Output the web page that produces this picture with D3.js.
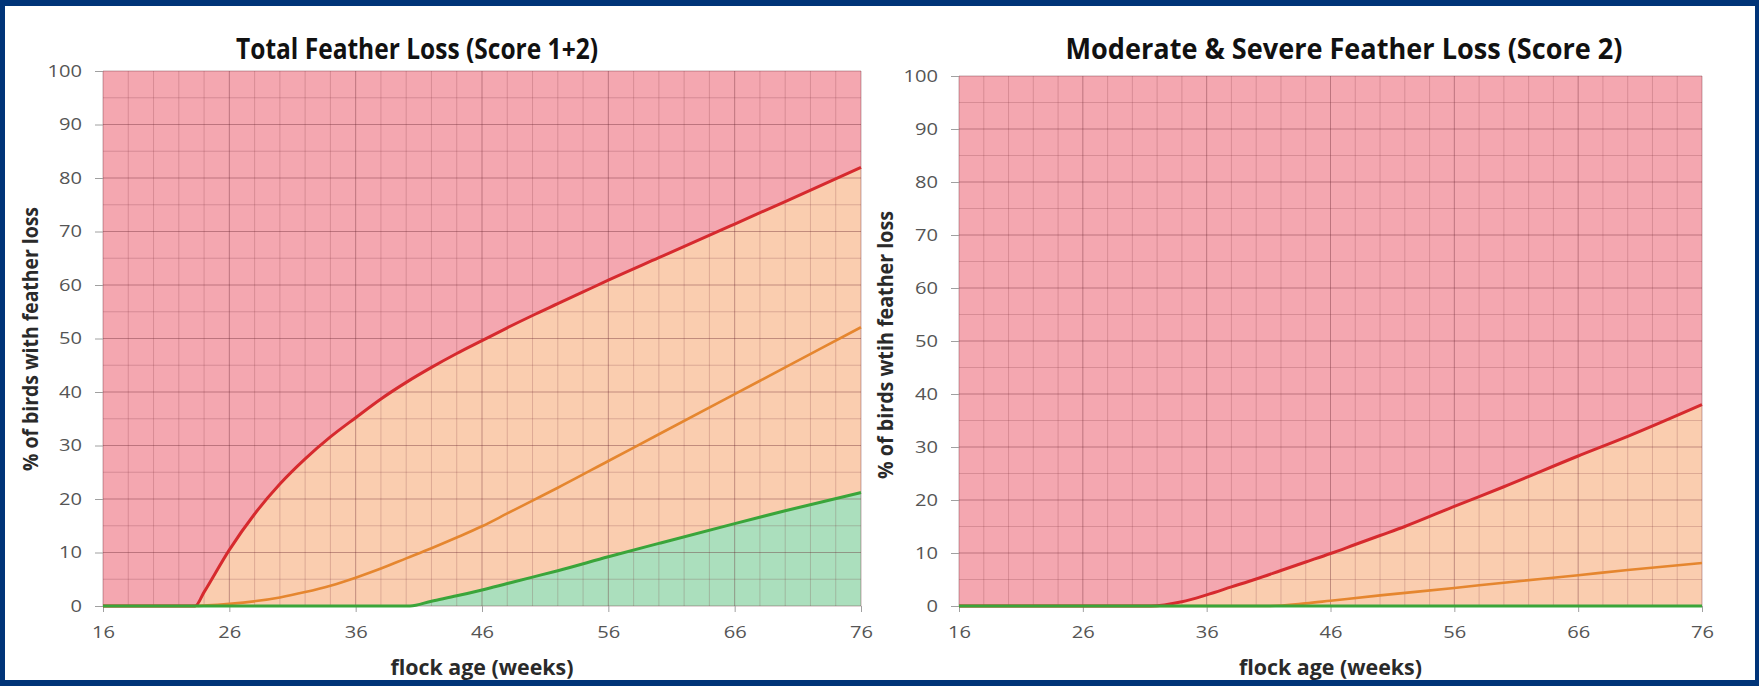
<!DOCTYPE html>
<html>
<head>
<meta charset="utf-8">
<script src="https://cdn.jsdelivr.net/npm/d3@7"></script>
<style>
  html, body { margin: 0; padding: 0; background: #003478; }
  svg { display: block; }
  text { font-family: "Open Sans", "Noto Sans", sans-serif; }
</style>
</head>
<body>
<svg id="chart" width="1759" height="686"></svg>
<script>
// ---------------- DATA ----------------
const xTickValues = [16, 26, 36, 46, 56, 66, 76];
const yTickValues = [0, 10, 20, 30, 40, 50, 60, 70, 80, 90, 100];

const panelTitles = ["Total Feather Loss (Score 1+2)", "Moderate & Severe Feather Loss (Score 2)"];
const yAxisTitles = ["% of birds with feather loss", "% of birds wtih feather loss"];
const xAxisTitle = "flock age (weeks)";

// Total feather loss (score 1+2): [week, % of birds]
const totalRed = [[16,0],[23.3,0],[24,2.6],[26,10.5],[28,17.2],[30,22.8],[32,27.5],[34,31.6],[36,35.2],[38,38.7],[40,41.8],[42,44.6],[44,47.2],[46,49.6],[48,52.0],[50,54.3],[52,56.5],[54,58.7],[56,60.9],[60,65.1],[66,71.4],[70,75.6],[76,82.0]];
const totalOrange = [[16,0],[23,0],[26,0.4],[30,1.6],[32,2.6],[34,3.8],[36,5.3],[38,7.0],[40,8.9],[42,10.8],[44,12.8],[46,14.9],[48,17.3],[50,19.7],[52,22.1],[56,27.1],[60,32.1],[66,39.6],[70,44.6],[76,52.1]];
const totalGreen = [[16,0],[40.3,0],[42,0.9],[44,1.9],[46,3.0],[48,4.2],[50,5.4],[52,6.6],[56,9.2],[60,11.7],[66,15.4],[70,17.8],[76,21.2]];

// Moderate & severe feather loss (score 2)
const severeRed = [[16,0],[31.5,0],[34,0.8],[36,2.1],[38,3.6],[40,5.1],[42,6.7],[44,8.3],[46,9.9],[48,11.6],[50,13.3],[52,15.0],[56,18.8],[60,22.5],[66,28.3],[70,32.0],[76,38.0]];
const severeOrange = [[16,0],[41,0],[44,0.5],[46,1.0],[50,2.0],[56,3.4],[60,4.4],[66,5.8],[70,6.8],[76,8.1]];
const severeGreen = [[16,0],[76,0]];

// ---------------- STYLE ----------------
const COL = {
  border: "#003478",
  pink: "#f4a7b0",
  peach: "#facdaf",
  greenFill: "#abdfbd",
  red: "#d62a2e",
  orange: "#e5862f",
  green: "#3aa53a",
  gridMinor: "rgba(120,45,55,0.22)",
  gridMajor: "rgba(100,35,45,0.38)",
  tickText: "#555555",
  label: "#2a2a2a"
};

const svg = d3.select("#chart");
const W = 1759, H = 686;

svg.append("rect").attr("x",0).attr("y",0).attr("width",W).attr("height",H).attr("fill",COL.border);
svg.append("rect").attr("x",5).attr("y",6).attr("width",1750).attr("height",674).attr("fill","#ffffff");

const panels = [
  { left:103, right:861, top:71, bottom:606, red:totalRed, orange:totalOrange, green:totalGreen,
    title:panelTitles[0], titleX:417, titleLen:362, yTitle:yAxisTitles[0], yTitleX:31, yTitleY:339, yTitleLen:264 },
  { left:959, right:1702, top:76, bottom:606, red:severeRed, orange:severeOrange, green:severeGreen,
    title:panelTitles[1], titleX:1344, titleLen:557, yTitle:yAxisTitles[1], yTitleX:886, yTitleY:345, yTitleLen:268 }
];

panels.forEach(p => {
  const g = svg.append("g");
  const x = d3.scaleLinear().domain([16, 76]).range([p.left, p.right]);
  const y = d3.scaleLinear().domain([0, 100]).range([p.bottom, p.top]);

  // background zone (above red)
  g.append("rect").attr("x", x(16)).attr("y", y(100))
    .attr("width", x(76) - x(16)).attr("height", y(0) - y(100)).attr("fill", COL.pink);

  const area = d3.area().x(d => x(d[0])).y0(y(0)).y1(d => y(d[1])).curve(d3.curveMonotoneX);
  g.append("path").datum(p.red).attr("d", area).attr("fill", COL.peach);
  g.append("path").datum(p.green).attr("d", area).attr("fill", COL.greenFill);

  // grid
  const grid = g.append("g");
  d3.range(16, 77, 2).forEach(w => {
    grid.append("line").attr("x1", x(w)).attr("x2", x(w)).attr("y1", y(0)).attr("y2", y(100))
      .attr("stroke", (w - 16) % 10 === 0 ? COL.gridMajor : COL.gridMinor).attr("stroke-width", 1);
  });
  d3.range(0, 101, 5).forEach(v => {
    grid.append("line").attr("x1", x(16)).attr("x2", x(76)).attr("y1", y(v)).attr("y2", y(v))
      .attr("stroke", v % 10 === 0 ? COL.gridMajor : COL.gridMinor).attr("stroke-width", 1);
  });

  // axes
  const yAxis = g.append("g").attr("transform", `translate(${p.left},0)`)
    .call(d3.axisLeft(y).tickValues(yTickValues).tickSize(8).tickPadding(13));
  const xAxis = g.append("g").attr("transform", `translate(0,${p.bottom})`)
    .call(d3.axisBottom(x).tickValues(xTickValues).tickSize(6).tickPadding(14));
  [yAxis, xAxis].forEach(a => {
    a.select(".domain").remove();
    a.selectAll(".tick line").attr("stroke", "#a0a0a0");
    a.selectAll(".tick text").attr("fill", COL.tickText).style("font-size", "17px")
      .style("font-family", "'Open Sans', sans-serif")
      .attr("textLength", d => String(d).length * 11.5)
      .attr("lengthAdjust", "spacingAndGlyphs");
  });

  // lines
  const line = d3.line().x(d => x(d[0])).y(d => y(d[1])).curve(d3.curveMonotoneX);
  g.append("path").datum(p.orange).attr("d", line).attr("fill", "none").attr("stroke", COL.orange).attr("stroke-width", 2.6);
  g.append("path").datum(p.red).attr("d", line).attr("fill", "none").attr("stroke", COL.red).attr("stroke-width", 3);
  g.append("path").datum(p.green).attr("d", line).attr("fill", "none").attr("stroke", COL.green).attr("stroke-width", 3);

  // titles
  svg.append("text").attr("x", p.titleX).attr("y", 59).attr("text-anchor", "middle")
    .attr("fill", "#111").style("font-size", "28px").style("font-weight", 700)
    .attr("textLength", p.titleLen).attr("lengthAdjust", "spacingAndGlyphs").text(p.title);
  svg.append("text").attr("transform", `translate(${p.yTitleX},${p.yTitleY}) rotate(-90)`)
    .attr("text-anchor", "middle").attr("dy", "0.35em")
    .attr("fill", COL.label).style("font-size", "21px").style("font-weight", 700)
    .attr("textLength", p.yTitleLen).attr("lengthAdjust", "spacingAndGlyphs").text(p.yTitle);
  svg.append("text").attr("x", (p.left + p.right) / 2).attr("y", 675).attr("text-anchor", "middle")
    .attr("fill", COL.label).style("font-size", "21px").style("font-weight", 700)
    .attr("textLength", 183).attr("lengthAdjust", "spacingAndGlyphs").text(xAxisTitle);
});
</script>
</body>
</html>
